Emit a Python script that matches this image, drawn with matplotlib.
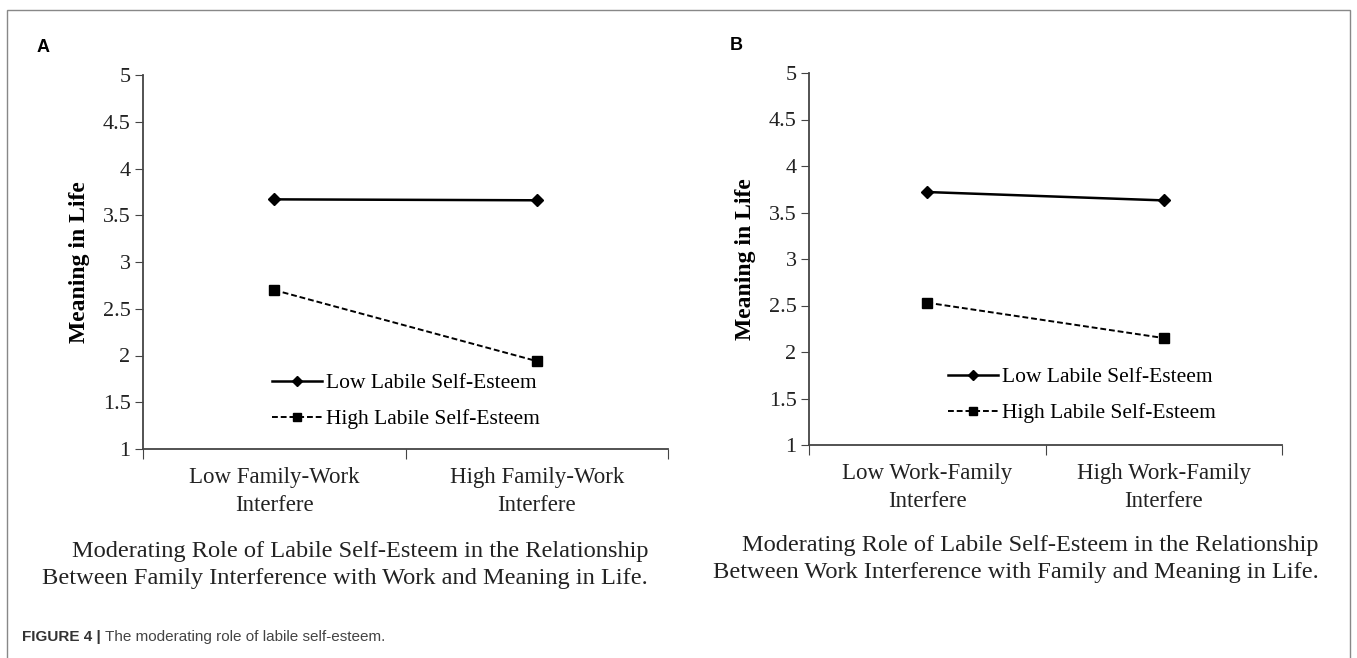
import matplotlib.pyplot as plt
from matplotlib.patches import Rectangle

# data
low_a = [3.67, 3.66]
high_a = [2.70, 1.94]
low_b = [3.72, 3.63]
high_b = [2.53, 2.15]
cats_a = ['Low Family-Work\nInterfere', 'High Family-Work\nInterfere']
cats_b = ['Low Work-Family\nInterfere', 'High Work-Family\nInterfere']
yticks = [1, 1.5, 2, 2.5, 3, 3.5, 4, 4.5, 5]
ytick_labels = ['1', '1.5', '2', '2.5', '3', '3.5', '4', '4.5', '5']
legend_labels = ['Low Labile Self-Esteem', 'High Labile Self-Esteem']
caption_a = 'Moderating Role of Labile Self-Esteem in the Relationship\nBetween Family Interference with Work and Meaning in Life.'
caption_b = 'Moderating Role of Labile Self-Esteem in the Relationship\nBetween Work Interference with Family and Meaning in Life.'

W, H = 1357, 658
serif = 'Liberation Serif'
sans = 'Liberation Sans'

fig = plt.figure(figsize=(W / 100, H / 100), dpi=100)


def fx(px):
    return px / W


def fy(py):
    return 1 - py / H


def panel(rect, low, high, cats, leg_xy):
    ax = fig.add_axes(rect)
    x = [0.5, 1.5]
    l1, = ax.plot(x, low, color='black', lw=1.8, marker='D', ms=6)
    l2, = ax.plot(x, high, color='black', lw=1.4, ls=(0, (3, 1.5)), marker='s', ms=7)
    ax.set_xlim(0, 2)
    ax.set_ylim(1, 5)
    ax.set_yticks(yticks)
    ax.set_yticklabels(ytick_labels, fontfamily=serif, fontsize=16, color='#222222')
    ax.set_xticks([0, 1, 2])
    ax.set_xticklabels([])
    ax.set_xticks(x, minor=True)
    ax.set_xticklabels(cats, minor=True, fontfamily=serif, fontsize=16.5,
                       color='#222222', linespacing=1.45)
    ax.tick_params(axis='x', which='minor', length=0, pad=13)
    ax.tick_params(axis='x', which='major', length=7, direction='out', color='#444444')
    ax.tick_params(axis='y', length=6, direction='out', color='#444444', pad=3)
    for s in ['top', 'right']:
        ax.spines[s].set_visible(False)
    for s in ['left', 'bottom']:
        ax.spines[s].set_color('#444444')
        ax.spines[s].set_linewidth(1.3)
    ax.set_ylabel('Meaning in Life', fontfamily=serif, fontsize=17,
                  fontweight='bold', labelpad=9)
    ax.legend([l1, l2], legend_labels, loc='upper left',
              bbox_to_anchor=(fx(leg_xy[0]), fy(leg_xy[1])),
              bbox_transform=fig.transFigure, frameon=False,
              prop={'family': serif, 'size': 15.5}, handlelength=2.3,
              handletextpad=0.2, labelspacing=0.75, borderpad=0, borderaxespad=0,
              markerscale=0.9)
    return ax


panel([fx(143), fy(449), fx(668) - fx(143), fy(75) - fy(449)],
      low_a, high_a, cats_a, (272, 373))
panel([fx(809), fy(445), fx(1282) - fx(809), fy(73) - fy(445)],
      low_b, high_b, cats_b, (948, 367))

fig.text(fx(648), fy(565), caption_a, ha='right', va='center', multialignment='right',
         fontfamily=serif, fontsize=17.6, color='#222222', linespacing=1.32)
fig.text(fx(1319), fy(559), caption_b, ha='right', va='center', multialignment='right',
         fontfamily=serif, fontsize=17.6, color='#222222', linespacing=1.32)

fig.text(fx(37), fy(47), 'A', fontfamily=sans, fontsize=13, fontweight='bold', va='center')
fig.text(fx(730), fy(45), 'B', fontfamily=sans, fontsize=13, fontweight='bold', va='center')

fig.text(fx(22), fy(637), 'FIGURE 4 |', fontfamily=sans, fontsize=11,
         fontweight='bold', color='#333333', va='center')
fig.text(fx(105), fy(637), 'The moderating role of labile self-esteem.', fontfamily=sans,
         fontsize=11, color='#444444', va='center')

fig.patches.append(Rectangle((fx(7), fy(700)), fx(1350) - fx(7), fy(10) - fy(700),
                             transform=fig.transFigure, fill=False,
                             edgecolor='#888888', lw=1.0))

fig.savefig('out.png', dpi=100)
